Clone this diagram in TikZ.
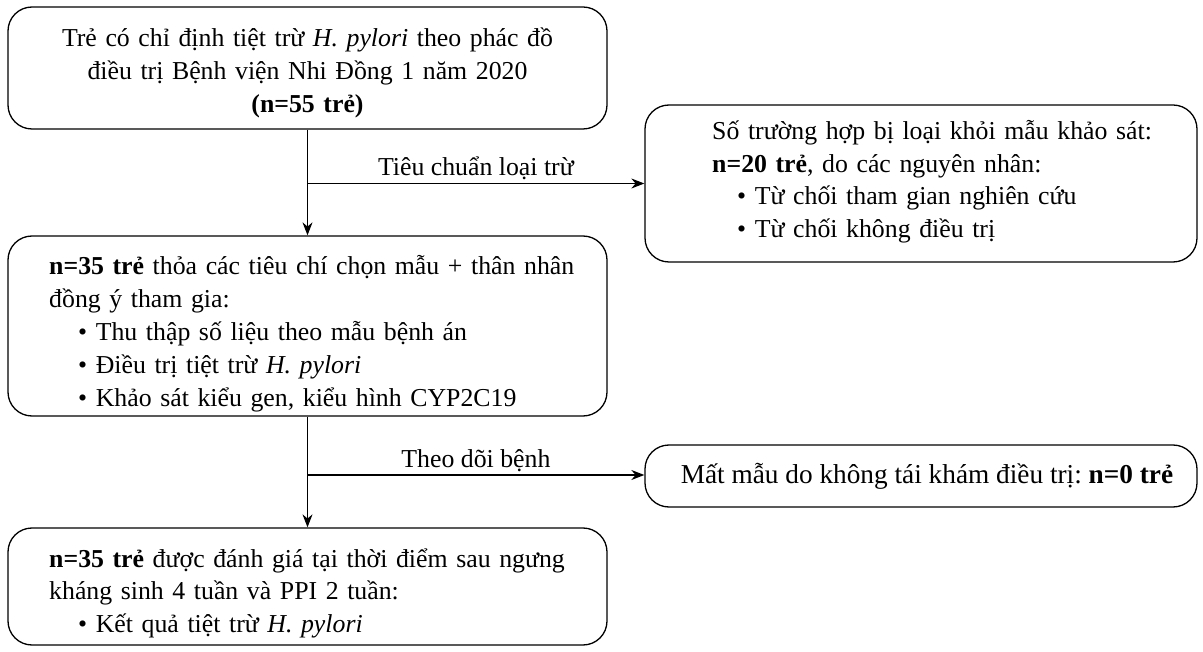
\documentclass[tikz,border=0pt]{standalone}
\usepackage{fontspec}
\setmainfont{Liberation Serif}
\usetikzlibrary{arrows.meta,calc}
\newcommand{\bul}{\hspace*{29pt}•\ }
\newcommand{\rbul}{\hspace*{25pt}•\ }
\begin{document}
\frenchspacing
\begin{tikzpicture}[x=1pt,y=-1pt,
  box/.style={draw, line width=1.3pt, rounded corners=24pt, inner sep=0pt},
  txt/.style={inner sep=0pt, text width=590pt, align=left, anchor=base west},
  f32/.style={font=\fontsize{25.8}{32.5}\selectfont},
  arr/.style={line width=1.3pt, -{Stealth[length=13pt,width=10pt]}},
  lbl/.style={anchor=base, inner sep=0pt, yshift=8pt, font=\fontsize{25.8}{30}\selectfont}
]
\useasboundingbox (0,0) rectangle (1203,652);
% boxes
\node[box, minimum width=599pt, minimum height=122pt] (b1) at (307.5,68) {};
\node[box, minimum width=552pt, minimum height=157pt] (rb1) at (921,183.5) {};
\node[box, minimum width=599pt, minimum height=180pt] (b2) at (307.5,326) {};
\node[box, minimum width=552pt, minimum height=62pt] (rb2) at (921,476) {};
\node[box, minimum width=599pt, minimum height=117pt] (b3) at (307.5,586.5) {};
% texts
\node[txt, text width=599pt, align=center, anchor=base, font=\fontsize{25.8}{33}\selectfont] (t1) at (307.5,47)
  {Trẻ có chỉ định tiệt trừ \textit{H. pylori} theo phác đồ\\
   điều trị Bệnh viện Nhi Đồng 1 năm 2020\\
   \textbf{(n=55 trẻ)}};
\node[txt, text width=480pt, font=\fontsize{25.8}{32.5}\selectfont] (t2) at (712,140)
  {Số trường hợp bị loại khỏi mẫu khảo sát:\\
   \textbf{n=20 trẻ}, do các nguyên nhân:\\
   \rbul Từ chối tham gian nghiên cứu\\
   \rbul Từ chối không điều trị};
\node[txt, font=\fontsize{25.8}{33}\selectfont] (t3) at (49,275)
  {\textbf{n=35 trẻ} thỏa các tiêu chí chọn mẫu + thân nhân\\
   đồng ý tham gia:\\
   \bul Thu thập số liệu theo mẫu bệnh án\\
   \bul Điều trị tiệt trừ \textit{H. pylori}\\
   \bul Khảo sát kiểu gen, kiểu hình CYP2C19};
\node[inner sep=0pt, anchor=base, font=\fontsize{27.3}{32}\selectfont] (t4) at (927,483)
  {Mất mẫu do không tái khám điều trị: \textbf{n=0 trẻ}};
\node[txt, f32] (t5) at (49,567)
  {\textbf{n=35 trẻ} được đánh giá tại thời điểm sau ngưng\\
   kháng sinh 4 tuần và PPI 2 tuần:\\
   \bul Kết quả tiệt trừ \textit{H. pylori}};
% connectors
\draw[arr] (b1.south) -- (b2.north);
\coordinate (j1) at (b1.south |- rb1.west);
\draw[arr] (j1) -- node[lbl]{Tiêu chuẩn loại trừ} (rb1.west);
\draw[arr] (b2.south) -- (b3.north);
\coordinate (j2) at (b2.south |- 0,475);
\draw[arr] (j2) -- node[lbl]{Theo dõi bệnh} (rb2.west |- j2);
\end{tikzpicture}
\end{document}
